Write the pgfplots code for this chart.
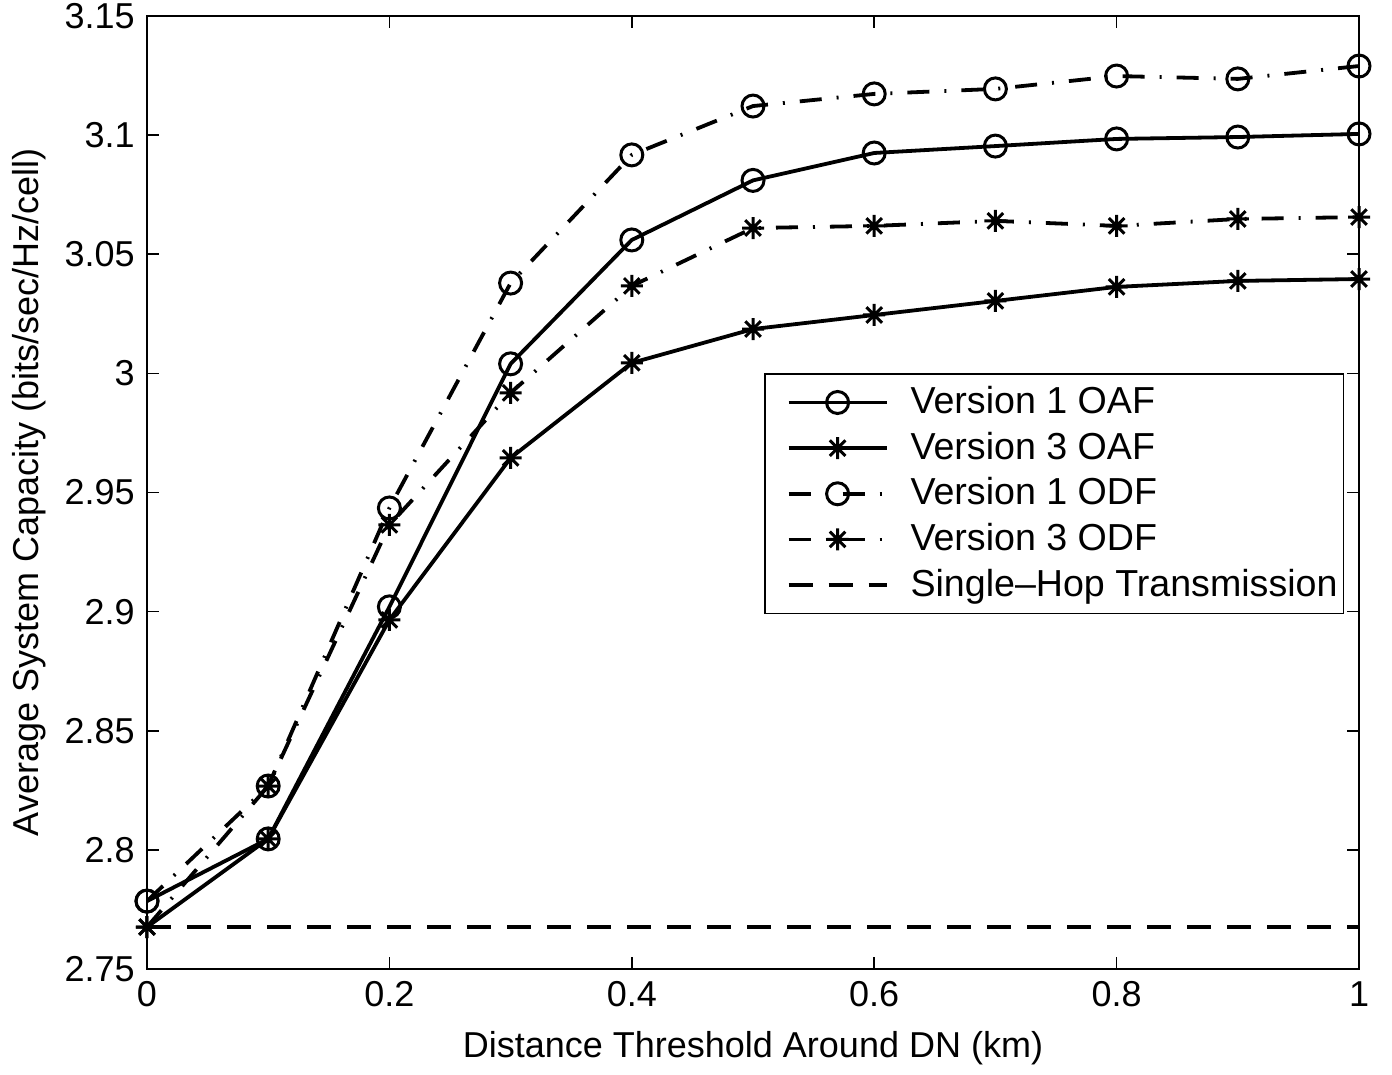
\documentclass[border=0pt]{standalone}
\usepackage{fontspec}
\setmainfont{Liberation Sans}
\usepackage{pgfplots}
\pgfplotsset{compat=1.18}
% matlab style asterisk: plus and cross together
\pgfdeclareplotmark{mstar}{%
  \pgfpathmoveto{\pgfqpoint{-\pgfplotmarksize}{0pt}}\pgfpathlineto{\pgfqpoint{\pgfplotmarksize}{0pt}}%
  \pgfpathmoveto{\pgfqpoint{0pt}{-\pgfplotmarksize}}\pgfpathlineto{\pgfqpoint{0pt}{\pgfplotmarksize}}%
  \pgfpathmoveto{\pgfqpoint{-0.707\pgfplotmarksize}{-0.707\pgfplotmarksize}}\pgfpathlineto{\pgfqpoint{0.707\pgfplotmarksize}{0.707\pgfplotmarksize}}%
  \pgfpathmoveto{\pgfqpoint{-0.707\pgfplotmarksize}{0.707\pgfplotmarksize}}\pgfpathlineto{\pgfqpoint{0.707\pgfplotmarksize}{-0.707\pgfplotmarksize}}%
  \pgfusepathqstroke}
\begin{document}
\fontsize{18}{21}\selectfont
\begin{tikzpicture}
\begin{axis}[
    scale only axis,
    width=606pt, height=476.5pt,
    xmin=0, xmax=1, ymin=2.75, ymax=3.15,
    xtick={0,0.2,0.4,0.6,0.8,1},
    ytick={2.75,2.8,2.85,2.9,2.95,3,3.05,3.1,3.15},
    /pgf/number format/assume math mode=true,
    /pgf/number format/fixed, /pgf/number format/precision=2,
    tick label style={font=\fontsize{18}{21}\selectfont},
    label style={font=\fontsize{18}{21}\selectfont},
    tick align=inside, major tick length=6pt,
    tick style={line width=0.8pt, black},
    axis line style={line width=0.8pt},
    xlabel={Distance Threshold Around DN (km)},
    ylabel={Average System Capacity (bits/sec/Hz/cell)},
    xlabel style={yshift=0pt},
    ylabel style={yshift=-3pt},
    every axis plot/.append style={line width=1.9pt, black},
    mark options={solid, line width=1.5pt},
    legend cell align=left,
    legend style={at={(0.509,0.625)}, anchor=north west, draw=black, line width=0.8pt,
        font=\fontsize{18.8}{22}\selectfont, row sep=2.5pt, inner xsep=1pt, inner ysep=4pt},
    legend image code/.code={
        \path (0pt,0pt) (68pt,0pt);
        \draw[line width=1.9pt, mark repeat=2, mark phase=2] plot coordinates {(10pt,0pt) (34.5pt,0pt) (59pt,0pt)};
    },
]
\coordinate (sw) at (rel axis cs:0,0);
\coordinate (ne) at (rel axis cs:1,1);
% Version 1 OAF
\addplot[solid, mark=o, mark size=5.5pt] coordinates {
(0,2.7785) (0.1,2.8046) (0.2,2.902) (0.3,3.004) (0.4,3.056) (0.5,3.081)
(0.6,3.0925) (0.7,3.0954) (0.8,3.0984) (0.9,3.0992) (1,3.1005)};
% Version 3 OAF
\addplot[solid, mark=mstar, mark size=5.5pt] coordinates {
(0,2.7676) (0.1,2.8046) (0.2,2.8965) (0.3,2.9645) (0.4,3.0044) (0.5,3.0186)
(0.6,3.0245) (0.7,3.0304) (0.8,3.0363) (0.9,3.0388) (1,3.0396)};
% Version 1 ODF
\addplot[dash pattern=on 11pt off 7.5pt on 1pt off 7.5pt, mark=o, mark size=5.5pt] coordinates {
(0,2.7785) (0.1,2.8268) (0.2,2.9435) (0.3,3.0379) (0.4,3.0917) (0.5,3.1122)
(0.6,3.1173) (0.7,3.1194) (0.8,3.1248) (0.9,3.1236) (1,3.129)};
% Version 3 ODF
\addplot[dash pattern=on 11pt off 7.5pt on 1pt off 7.5pt, mark=mstar, mark size=5.5pt] coordinates {
(0,2.7676) (0.1,2.8268) (0.2,2.9364) (0.3,2.9918) (0.4,3.0367) (0.5,3.061)
(0.6,3.0619) (0.7,3.064) (0.8,3.0619) (0.9,3.0648) (1,3.0656)};
% Single-hop
\addplot[dash pattern=on 12pt off 8pt] coordinates {(0,2.7676) (1,2.7676)};
\legend{Version 1 OAF, Version 3 OAF, Version 1 ODF, Version 3 ODF, Single--Hop Transmission}
\end{axis}
\pgfresetboundingbox
\path ([shift={(-73.5pt,-53pt)}]sw) rectangle ([shift={(16.5pt,8pt)}]ne);
\end{tikzpicture}
\end{document}
